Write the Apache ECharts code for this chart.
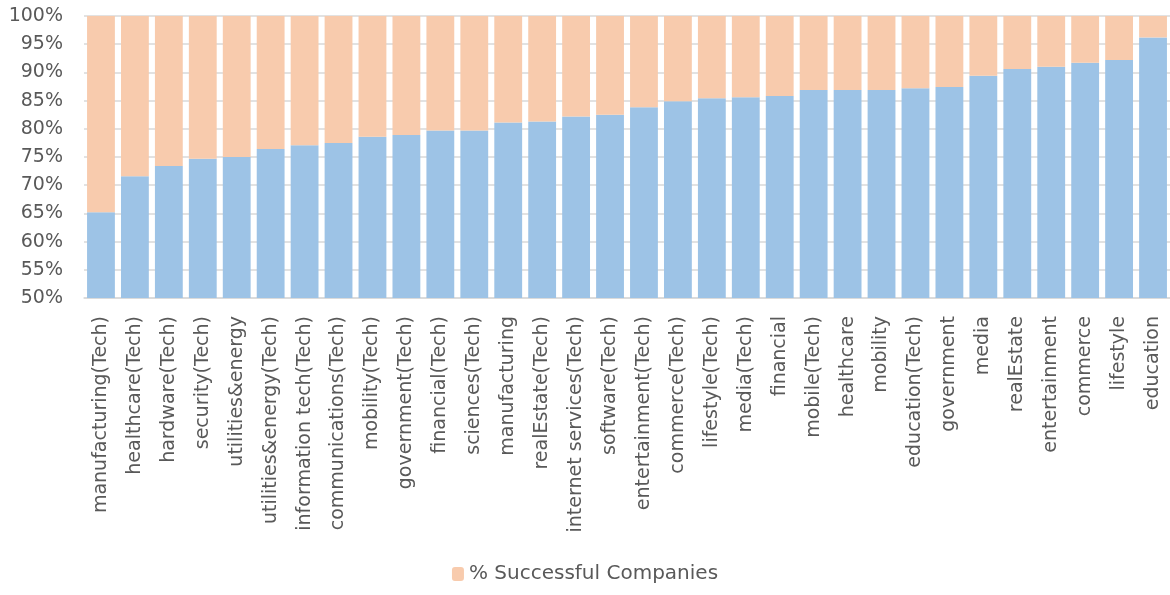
<!DOCTYPE html>
<html>
<head>
<meta charset="utf-8">
<script src="https://cdn.jsdelivr.net/npm/echarts@6/dist/echarts.min.js"></script>
<style>
html,body{margin:0;padding:0;background:#fff;}
#chart{width:1170px;height:595px;}
</style>
</head>
<body>
<div id="chart"></div>
<script>
const categories = [
  'manufacturing(Tech)', 'healthcare(Tech)', 'hardware(Tech)', 'security(Tech)',
  'utilities&energy', 'utilities&energy(Tech)', 'information tech(Tech)', 'communications(Tech)',
  'mobility(Tech)', 'government(Tech)', 'financial(Tech)', 'sciences(Tech)',
  'manufacturing', 'realEstate(Tech)', 'internet services(Tech)', 'software(Tech)',
  'entertainment(Tech)', 'commerce(Tech)', 'lifestyle(Tech)', 'media(Tech)',
  'financial', 'mobile(Tech)', 'healthcare', 'mobility',
  'education(Tech)', 'government', 'media', 'realEstate',
  'entertainment', 'commerce', 'lifestyle', 'education'
];
const bluePart = [
  65.2, 71.6, 73.4, 74.7, 75.0, 76.4, 77.1, 77.5,
  78.6, 78.9, 79.7, 79.7, 81.1, 81.3, 82.2, 82.5,
  83.8, 84.9, 85.4, 85.6, 85.8, 86.9, 86.9, 86.9,
  87.2, 87.4, 89.4, 90.6, 91.0, 91.7, 92.2, 96.2
];
const total = 100;
const peachPart = bluePart.map(v => +(total - v).toFixed(1));
const yTicks = { min: 50, max: 100, interval: 5 };
const legendName = '% Successful Companies';

const chart = echarts.init(document.getElementById('chart'));
const font = '"DejaVu Sans", sans-serif';
chart.setOption({
  animation: false,
  grid: { left: 84, right: -2, top: 16, bottom: 297, containLabel: false },
  legend: {
    data: [legendName],
    bottom: 6,
    left: 'center',
    itemWidth: 12,
    itemHeight: 14,
    itemGap: 5,
    textStyle: { color: '#595959', fontSize: 20, fontFamily: font }
  },
  xAxis: {
    type: 'category',
    data: categories,
    axisLine: { show: true, lineStyle: { color: '#D9D9D9', width: 1.5 } },
    axisTick: { show: false },
    axisLabel: {
      rotate: 90, interval: 0, margin: 18,
      color: '#595959', fontSize: 19, fontFamily: font
    }
  },
  yAxis: {
    type: 'value',
    min: yTicks.min, max: yTicks.max, interval: yTicks.interval,
    axisLine: { show: false },
    axisTick: { show: false },
    splitLine: { lineStyle: { color: '#D9D9D9', width: 1.5 } },
    axisLabel: {
      formatter: '{value}%', margin: 21,
      color: '#595959', fontSize: 19, fontFamily: font
    }
  },
  series: [
    {
      name: 'Unsuccessful',
      type: 'bar', stack: 's',
      data: bluePart,
      barCategoryGap: '18%',
      itemStyle: { color: '#9DC3E6' }
    },
    {
      name: legendName,
      type: 'bar', stack: 's',
      data: peachPart,
      itemStyle: { color: '#F8CBAD' }
    }
  ]
});
</script>
</body>
</html>
